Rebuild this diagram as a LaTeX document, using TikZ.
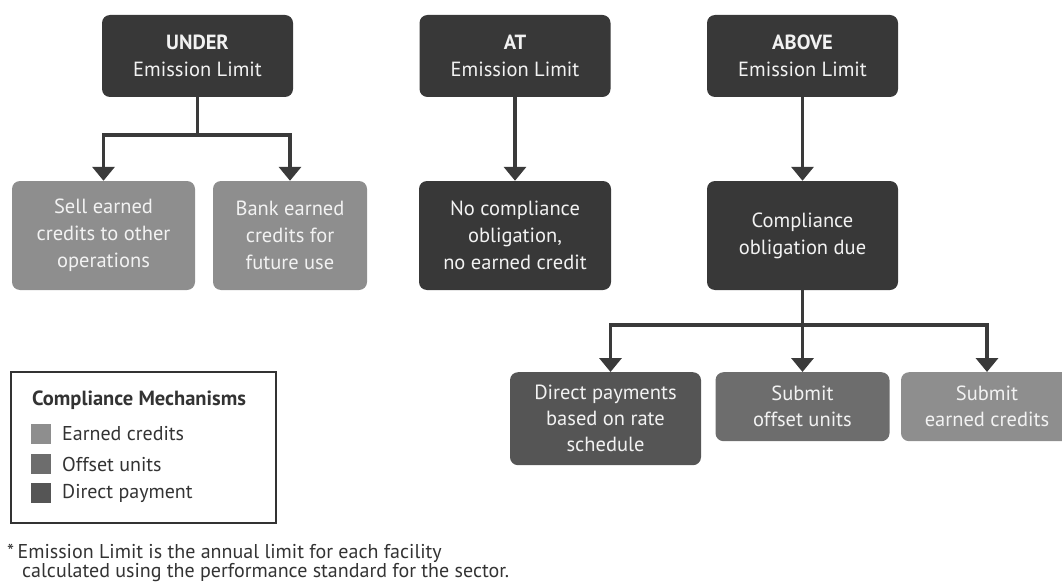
\documentclass[tikz,border=0pt]{standalone}
\usepackage{fontspec}
\setmainfont{PT Sans}
\usetikzlibrary{arrows.meta}
\definecolor{boxdark}{HTML}{383838}
\definecolor{boxdirect}{HTML}{555555}
\definecolor{boxoffset}{HTML}{6D6D6D}
\definecolor{boxearned}{HTML}{8E8E8E}
\definecolor{linecol}{HTML}{3A3A3A}
\definecolor{textcol}{HTML}{333333}
\definecolor{boxtext}{HTML}{F2F2F2}

\begin{document}
\begin{tikzpicture}[x=1pt,y=-1pt,
  box/.style={rectangle, rounded corners=8pt, text=boxtext, align=center,
    inner sep=0pt, font=\fontsize{20.5}{27}\selectfont},
  topbox/.style={box, fill=boxdark, minimum width=191pt, minimum height=82pt},
  midbox/.style={box, minimum height=109pt},
  lowbox/.style={box, anchor=north, font=\fontsize{20.5}{26}\selectfont},
  conn/.style={draw=linecol, line width=3.6pt, line join=miter,
    -{Triangle[width=22pt,length=14pt]}},
  swatch/.style={rectangle, inner sep=0pt, minimum width=20pt, minimum height=20pt},
  legtext/.style={anchor=west, inner sep=0pt, text=textcol, font=\fontsize{20}{22}\selectfont},
]
\useasboundingbox (0,0) rectangle (1062,583);

% top row: position relative to the emission limit
\node[topbox] (under) at (197.5,56) {\textbf{UNDER}\\Emission Limit};
\node[topbox] (at)    at (515,56)   {\textbf{AT}\\Emission Limit};
\node[topbox] (above) at (802.5,56) {\textbf{ABOVE}\\Emission Limit};

% middle row: outcomes
\node[midbox, fill=boxearned, minimum width=183pt] (sell) at (103.5,235.5)
  {Sell earned\\credits to other\\operations};
\node[midbox, fill=boxearned, minimum width=154pt] (bank) at (290,235.5)
  {Bank earned\\credits for\\future use};
\node[midbox, fill=boxdark, minimum width=192pt] (nocomp) at (515,235.5)
  {No compliance\\obligation,\\no earned credit};
\node[midbox, fill=boxdark, minimum width=191pt] (due) at (802.5,235.5)
  {Compliance\\obligation due};

% bottom row: compliance mechanisms
\node[lowbox, fill=boxdirect, minimum width=191pt, minimum height=93pt] (direct) at (605.5,372)
  {Direct payments\\based on rate\\schedule};
\node[lowbox, fill=boxoffset, minimum width=174pt, minimum height=69pt] (offset) at (802.5,372)
  {Submit\\offset units};
\node[lowbox, fill=boxearned, minimum width=172pt, minimum height=69pt] (earned) at (987,372)
  {Submit\\earned credits};

% connectors
\draw[conn] (under.south) -- ++(0,38) -| (sell.north);
\draw[conn] (under.south) -- ++(0,38) -| (bank.north);
\draw[conn] (at.south) -- (nocomp.north);
\draw[conn] (above.south) -- (due.north);
\draw[conn] (due.south) -- ++(0,35) -| ([xshift=5pt]direct.north);
\draw[conn] (due.south) -- (offset.north);
\draw[conn] (due.south) -- ++(0,35) -| (earned.north);

% legend
\node[draw=textcol, line width=1.8pt, rectangle, minimum width=265pt,
  minimum height=151pt, inner sep=0pt] (legend) at (143.5,447.5) {};
\node[legtext, font=\fontsize{20.5}{22}\selectfont\bfseries] (legtitle) at (32,400)
  {Compliance Mechanisms};
\node[swatch, fill=boxearned] (swe) at (41,434) {};
\node[swatch, fill=boxoffset] (swo) at (41,464) {};
\node[swatch, fill=boxdirect] (swd) at (41,493) {};
\node[legtext] (le) at (62,434) {Earned credits};
\node[legtext] (lo) at (62,464) {Offset units};
\node[legtext] (ld) at (62,493) {Direct payment};

% footnote
\node[legtext] (fn1) at (7,553) {*\,Emission Limit is the annual limit for each facility};
\node[legtext] (fn2) at (22,573) {calculated using the performance standard for the sector.};
\end{tikzpicture}
\end{document}
